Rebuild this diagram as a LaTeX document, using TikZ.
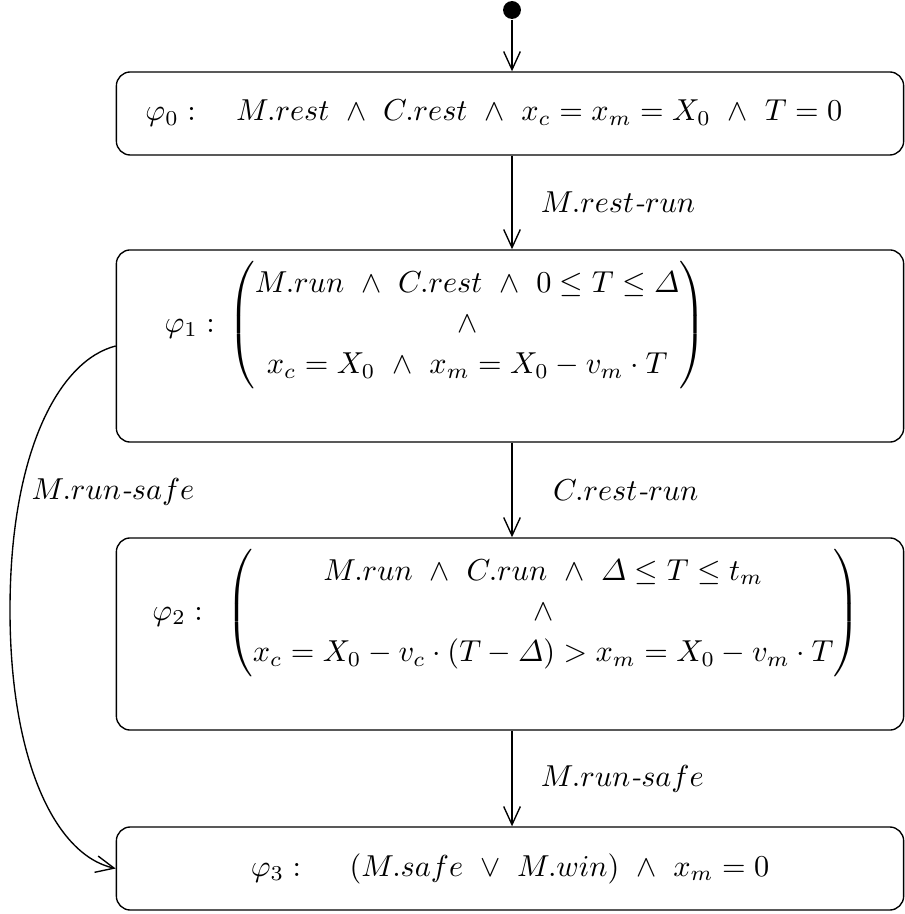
\documentclass[tikz,border=0pt]{standalone}
\usepackage{amsmath,amssymb}
\usepackage{tikz}
\usetikzlibrary{arrows.meta,positioning,calc}
\newcommand{\lnd}{\ \wedge\ }
\newcommand{\lvee}{\ \vee\ }
\renewcommand{\arraystretch}{1.12}

\begin{document}
\begin{tikzpicture}[x=0.33pt,y=-0.33pt,
    statebox/.style={draw,rounded corners=4.6pt,line width=0.45pt,
      inner xsep=9.6pt,inner ysep=0pt,text width=240.6pt},
    flatbox/.style={statebox,minimum height=27.4pt},
    tallbox/.style={statebox,text height=27.2pt,text depth=36.2pt},
    flow/.style={-{Straight Barb[length=6pt,width=5.5pt]},line width=0.45pt}]
  \useasboundingbox (0,0) rectangle (904,914);
  \node[circle,fill,inner sep=0pt,minimum size=5.9pt] (start) at (512,10) {};
  \node[flatbox,align=left] (b0) at (510,113.5)
    {\mbox{$\varphi_0:$\quad\ $M.rest\lnd C.rest\lnd x_c=x_m=X_0\lnd T=0$}};
  \node[tallbox,align=left] (b1) at (510,346)
    {\mbox{\hspace*{6.3pt}$\varphi_1:\,\begin{pmatrix}
      M.run\lnd C.rest\lnd 0\le T\le\varDelta\\
      \wedge\\
      x_c=X_0\lnd x_m=X_0-v_m\cdot T
    \end{pmatrix}$}};
  \node[tallbox,align=left] (b2) at (510,634)
    {\mbox{\hspace*{2.3pt}$\varphi_2:\ \,\begin{pmatrix}
      M.run\lnd C.run\lnd \varDelta\le T\le t_m\\
      \wedge\\
      x_c=X_0-v_c\cdot(T-\varDelta)>x_m=X_0-v_m\cdot T
    \end{pmatrix}$}};
  \node[flatbox,align=center] (b3) at (510,868.5)
    {\mbox{$\varphi_3:$\hspace{1.6em}$(M.safe\lvee M.win)\lnd x_m=0$}};
  % straight transitions
  \draw[flow] (start) -- (start |- b0.north);
  \draw[flow] (b0.south -| start) -- node[right=6pt] (t01) {$M.rest$\textit{-}$run$} (b1.north -| start);
  \draw[flow] (b1.south -| start) -- node[right=10pt] (t12) {$C.rest$\textit{-}$run$} (b2.north -| start);
  \draw[flow] (b2.south -| start) -- node[right=6pt] (t23) {$M.run$\textit{-}$safe$} (b3.north -| start);
  % side transition
  \draw[flow] (b1.west) .. controls (60,360) and (10,450)
    .. node[pos=0.72,right=0pt] (t13) {$M.run$\textit{-}$safe$} (10,610)
    .. controls (10,760) and (55,855) .. (b3.west);
\end{tikzpicture}
\end{document}
